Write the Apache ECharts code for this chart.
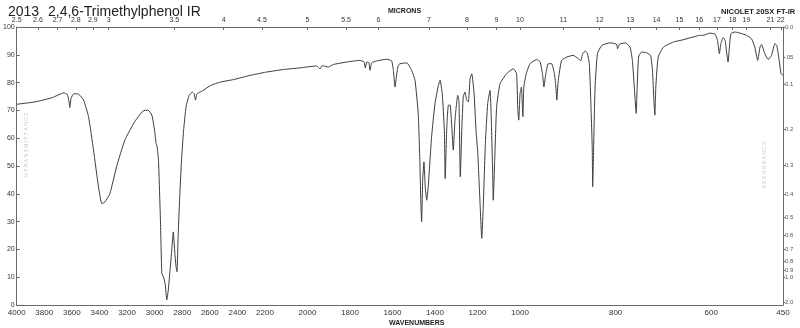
<!DOCTYPE html>
<html>
<head>
<meta charset="utf-8">
<title>2,4,6-Trimethylphenol IR</title>
<script src="https://cdn.jsdelivr.net/npm/echarts@6.0.0/dist/echarts.min.js"></script>
<style>
  html, body { margin: 0; padding: 0; background: #fff; }
  #chart { width: 800px; height: 328px; }
</style>
</head>
<body>
<div id="chart"></div>
<script>
// Spectrum: wavenumber (cm-1) and percent transmittance
const wavenumbers = [
  4000, 3862, 3742, 3658, 3634, 3622, 3615, 3606, 3586, 3550, 3515, 3479, 3443, 3407, 3383, 3360,
  3324, 3276, 3216, 3145, 3084, 3048, 3020, 3001, 2989, 2982, 2972, 2958, 2948, 2937, 2924, 2912,
  2901, 2886, 2874, 2865, 2855, 2845, 2838, 2829, 2817, 2805, 2790, 2772, 2750, 2726, 2714, 2704,
  2695, 2673, 2654, 2594, 2523, 2427, 2308, 2200,
  2192, 2114, 2035, 1957, 1941, 1930, 1902, 1879, 1816, 1753, 1734, 1728, 1721, 1711, 1706, 1698,
  1674, 1627, 1604, 1596, 1588, 1580, 1573, 1565, 1533, 1510, 1494, 1479, 1471, 1466, 1463, 1458,
  1452, 1446, 1439, 1432, 1416, 1400, 1384, 1376, 1366, 1356, 1352, 1345, 1337, 1329, 1321, 1314,
  1306, 1293, 1287, 1281, 1274, 1267, 1259, 1251, 1243, 1235, 1227, 1216, 1207, 1199, 1188, 1180,
  1173, 1163, 1152, 1141, 1135, 1128, 1126, 1119, 1110, 1094, 1063, 1032, 1016, 1011, 1006, 1000,
  997, 994, 992, 987, 979, 965, 958, 953, 950, 946, 941, 934, 928, 925, 923, 920,
  913, 902, 889, 878, 873, 869, 863, 859, 855, 852, 849, 848, 846, 843, 838, 829,
  812, 798, 796, 792, 780, 770, 765, 761, 757, 755, 752, 746, 735, 727, 723, 720,
  718, 716, 711, 700, 679, 659, 638, 624, 617, 603, 592, 587, 583, 580, 575, 571,
  568, 565, 562, 559, 550, 540, 526, 516, 509, 503, 498, 495, 488, 481, 474, 467,
  463, 458, 454, 450
];
const transmittance = [
  72.2, 73.1, 74.6, 76.3, 75.8, 73.7, 71.0, 74.3, 76.0, 75.8, 73.7, 67.7, 55.7, 42.5, 36.5, 37.1,
  40.1, 49.7, 59.3, 65.9, 69.8, 70.1, 68.3, 62.9, 58.1, 56.9, 52.1, 30.5, 11.4, 10.2, 7.8, 1.8,
  5.4, 13.8, 21.0, 26.3, 19.8, 13.8, 12.0, 25.7, 40.1, 52.1, 62.9, 71.3, 75.4, 76.6, 76.0, 73.7,
  75.8, 76.6, 77.0, 79.0, 80.2, 81.1, 82.6, 83.7,
  83.8, 84.7, 85.3, 86.0, 84.9, 86.1, 85.6, 86.5, 87.4, 88.0, 87.4, 85.3, 87.4, 87.2, 84.4, 87.1,
  87.8, 88.4, 87.8, 84.4, 78.4, 83.2, 86.2, 86.8, 87.1, 84.4, 80.8, 68.9, 50.9, 35.3, 29.9, 44.9,
  51.5, 42.5, 37.7, 42.5, 60.5, 72.5, 79.0, 80.8, 76.0, 62.9, 45.5, 62.9, 71.9, 71.9, 64.1, 55.7,
  66.5, 75.4, 73.1, 46.1, 62.9, 74.9, 76.6, 73.7, 73.1, 81.4, 83.2, 76.0, 62.9, 55.1, 36.5, 24.0,
  35.3, 58.1, 72.5, 77.2, 66.5, 46.1, 37.7, 52.1, 71.3, 79.6, 83.2, 85.0, 83.2, 71.3, 66.5, 76.0,
  78.4, 67.7, 78.4, 83.2, 86.8, 88.3, 87.4, 83.2, 78.4, 83.2, 86.8, 86.8, 83.2, 78.4, 73.7, 80.8,
  88.0, 89.2, 89.8, 88.6, 87.8, 90.4, 91.3, 90.4, 86.8, 73.7, 56.9, 42.5, 56.9, 78.4, 90.4, 93.4,
  94.3, 93.8, 92.2, 93.8, 94.3, 92.8, 88.0, 78.4, 68.9, 78.4, 89.2, 91.0, 90.7, 89.8, 84.4, 73.7,
  68.3, 78.4, 89.2, 92.8, 94.6, 95.4, 96.4, 97.0, 97.0, 97.8, 97.4, 95.2, 90.4, 94.0, 96.2, 95.2,
  91.0, 87.4, 92.8, 97.6, 98.2, 97.8, 97.0, 95.8, 92.8, 88.0, 92.8, 93.7, 90.4, 88.3, 89.8, 94.0,
  93.4, 88.0, 83.2, 82.6
];

// Axis tick labels
const wavenumberTicks = [4000, 3800, 3600, 3400, 3200, 3000, 2800, 2600, 2400, 2200,
  2000, 1800, 1600, 1400, 1200, 1000, 800, 600, 450];
const micronTicks = [2.5, 2.6, 2.7, 2.8, 2.9, 3, 3.5, 4, 4.5, 5, 5.5, 6, 7, 8, 9, 10,
  11, 12, 13, 14, 15, 16, 17, 18, 19, 21, 22];
const transmittanceTicks = [0, 10, 20, 30, 40, 50, 60, 70, 80, 90, 100];
const absorbanceTicks = [0, 0.05, 0.1, 0.2, 0.3, 0.4, 0.5, 0.6, 0.7, 0.8, 0.9, 1.0, 2.0];
const absorbanceText = ['0.0', '.05', '0.1', '0.2', '0.3', '0.4', '0.5', '0.6', '0.7', '0.8', '0.9', '1.0', '2.0'];

// The wavenumber axis changes scale twice, so it is drawn as three side-by-side panels
const panels = [
  { hi: 4000, lo: 2200, left: 14, width: 251 },
  { hi: 2200, lo: 1000, left: 265, width: 255 },
  { hi: 1000, lo: 450, left: 520, width: 263 }
];

const FONT = 'Liberation Sans, Arial, sans-serif';
const AXIS_COLOR = '#6a6a6a';
const TEXT_COLOR = '#333';
const PLOT_TOP = 27;
const PLOT_HEIGHT = 278;

const inPanel = (v, p, i) => v <= p.hi + 1e-6 && v >= p.lo - 1e-6 && !(i > 0 && Math.abs(v - p.hi) < 1e-6);

const grids = [], xAxes = [], yAxes = [], series = [];

panels.forEach((p, i) => {
  grids.push({ left: p.left, width: p.width, top: PLOT_TOP, height: PLOT_HEIGHT });

  const bottomVals = wavenumberTicks.filter(v => inPanel(v, p, i));
  const topVals = micronTicks.map(m => 10000 / m).filter(v => inPanel(v, p, i));

  // bottom: wavenumbers
  xAxes.push({
    gridIndex: i, type: 'value', inverse: true, min: p.lo, max: p.hi, position: 'bottom',
    axisLine: { show: true, lineStyle: { color: AXIS_COLOR, width: 1 } },
    axisTick: { show: false },
    splitLine: { show: false },
    axisLabel: {
      customValues: bottomVals, showMinLabel: true, showMaxLabel: true,
      formatter: v => String(Math.round(v)),
      fontSize: 8, color: TEXT_COLOR, fontFamily: FONT, margin: 4
    }
  });
  // top: microns
  xAxes.push({
    gridIndex: i, type: 'value', inverse: true, min: p.lo, max: p.hi, position: 'top',
    axisLine: { show: true, lineStyle: { color: AXIS_COLOR, width: 1 } },
    axisTick: { show: true, inside: true, length: 3, customValues: topVals, lineStyle: { color: AXIS_COLOR } },
    splitLine: { show: false },
    axisLabel: {
      customValues: topVals, showMinLabel: true, showMaxLabel: true,
      formatter: v => String(+(10000 / v).toFixed(1)),
      fontSize: 7, color: TEXT_COLOR, fontFamily: FONT, margin: 3
    }
  });

  if (i === 0) {
    yAxes.push({
      gridIndex: i, type: 'value', min: 0, max: 100, interval: 10, position: 'left',
      axisLine: { show: true, lineStyle: { color: AXIS_COLOR, width: 1 } },
      axisTick: { show: true, inside: true, length: 3, lineStyle: { color: AXIS_COLOR } },
      splitLine: { show: false },
      axisLabel: { customValues: transmittanceTicks, fontSize: 7, color: TEXT_COLOR, fontFamily: FONT, margin: 2 }
    });
  } else if (i === 2) {
    const absVals = absorbanceTicks.map(a => 100 * Math.pow(10, -a));
    yAxes.push({
      gridIndex: i, type: 'value', min: 0, max: 100, position: 'right',
      axisLine: { show: true, lineStyle: { color: AXIS_COLOR, width: 1 } },
      axisTick: { show: true, length: 2, customValues: absVals, lineStyle: { color: AXIS_COLOR } },
      splitLine: { show: false },
      axisLabel: {
        customValues: absVals, fontSize: 6, color: '#555', fontFamily: FONT, margin: 2,
        formatter: v => {
          const a = -Math.log10(v / 100);
          let best = 0;
          absorbanceTicks.forEach((t, k) => { if (Math.abs(t - a) < Math.abs(absorbanceTicks[best] - a)) best = k; });
          return absorbanceText[best];
        }
      }
    });
  } else {
    yAxes.push({ gridIndex: i, type: 'value', min: 0, max: 100, show: false });
  }

  const data = [];
  wavenumbers.forEach((w, k) => { if (w <= p.hi && w >= p.lo) data.push([w, transmittance[k]]); });
  series.push({
    type: 'line', xAxisIndex: i * 2, yAxisIndex: i, data,
    showSymbol: false, smooth: 0.15, silent: true,
    lineStyle: { color: '#3c3c3c', width: 1 }
  });
});

const chart = echarts.init(document.getElementById('chart'), null, { renderer: 'canvas' });
chart.setOption({
  backgroundColor: '#fff',
  animation: false,
  title: [
    { text: '2013', left: 3, top: 0, textStyle: { fontSize: 14, fontWeight: 'normal', color: '#222', fontFamily: FONT } },
    { text: '2,4,6-Trimethylphenol IR', left: 43, top: 0, textStyle: { fontSize: 14, fontWeight: 'normal', color: '#222', fontFamily: FONT } },
    { text: 'MICRONS', left: 383, top: 3, textStyle: { fontSize: 7, fontWeight: 'bold', color: '#222', fontFamily: FONT } },
    { text: 'NICOLET 20SX FT-IR', left: 716, top: 3, textStyle: { fontSize: 7.5, fontWeight: 'bold', color: '#222', fontFamily: FONT } },
    { text: 'WAVENUMBERS', left: 384, top: 315, textStyle: { fontSize: 7, fontWeight: 'bold', color: '#222', fontFamily: FONT } }
  ],
  graphic: [
    { type: 'text', x: 27, y: 145, rotation: Math.PI / 2, silent: true,
      style: { text: '% T R A N S M I T T A N C E', fill: '#c4c4c4', font: '5px ' + FONT, align: 'center', verticalAlign: 'middle' } },
    { type: 'text', x: 765, y: 165, rotation: Math.PI / 2, silent: true,
      style: { text: 'A B S O R B A N C E', fill: '#c4c4c4', font: '5px ' + FONT, align: 'center', verticalAlign: 'middle' } }
  ],
  grid: grids,
  xAxis: xAxes,
  yAxis: yAxes,
  series
});
</script>
</body>
</html>
